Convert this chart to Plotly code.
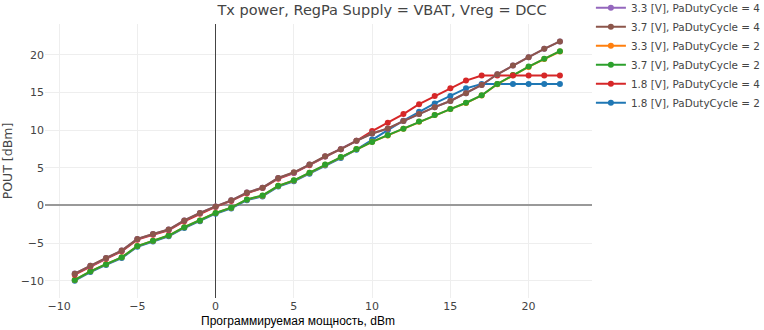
import plotly.graph_objects as go

x_dbm = list(range(-9, 23))

# 1.8 [V], PaDutyCycle = 2
pout_18_d2 = [-10.0, -8.85, -7.9, -7.0, -5.5, -4.8, -4.1, -3.0, -2.1, -1.1, -0.4, 0.7, 1.2, 2.5, 3.2, 4.2, 5.3, 6.3, 7.4, 8.75, 10.0, 11.25, 12.45, 13.55, 14.55, 15.55, 16.13, 16.13, 16.13, 16.13, 16.13, 16.13]
# 3.3 [V], PaDutyCycle = 2
pout_33_d2 = [-9.9, -8.75, -7.8, -6.9, -5.4, -4.7, -4.0, -2.9, -2.0, -1.0, -0.3, 0.8, 1.3, 2.6, 3.3, 4.35, 5.4, 6.4, 7.5, 8.45, 9.3, 10.2, 11.1, 12.0, 12.8, 13.6, 14.6, 16.1, 17.3, 18.4, 19.45, 20.45]
# 3.7 [V], PaDutyCycle = 2
pout_37_d2 = [-9.9, -8.76, -7.8, -6.9, -5.4, -4.7, -4.0, -2.9, -2.0, -1.0, -0.3, 0.8, 1.33, 2.6, 3.33, 4.35, 5.42, 6.44, 7.5, 8.44, 9.33, 10.2, 11.15, 12.0, 12.8, 13.64, 14.62, 16.13, 17.33, 18.44, 19.47, 20.49]
# 1.8 [V], PaDutyCycle = 4
pout_18_d4 = [-9.2, -8.1, -7.1, -6.1, -4.55, -3.9, -3.3, -2.1, -1.1, -0.2, 0.6, 1.6, 2.3, 3.55, 4.3, 5.35, 6.5, 7.45, 8.58, 9.87, 10.97, 12.13, 13.45, 14.53, 15.55, 16.58, 17.25, 17.25, 17.25, 17.25, 17.25, 17.25]
# 3.3 [V], PaDutyCycle = 4
pout_33_d4 = [-9.05, -8.0, -7.0, -6.0, -4.45, -3.8, -3.2, -2.0, -1.0, -0.13, 0.67, 1.7, 2.35, 3.65, 4.35, 5.42, 6.5, 7.47, 8.58, 9.55, 10.2, 11.2, 12.13, 13.05, 13.87, 14.9, 16.0, 17.42, 18.6, 19.69, 20.8, 21.78]
# 3.7 [V], PaDutyCycle = 4
pout_37_d4 = [-9.07, -8.0, -6.98, -6.0, -4.45, -3.8, -3.2, -2.0, -1.0, -0.13, 0.67, 1.7, 2.35, 3.65, 4.4, 5.42, 6.53, 7.47, 8.58, 9.55, 10.22, 11.2, 12.13, 13.05, 13.87, 14.9, 16.0, 17.42, 18.6, 19.69, 20.8, 21.78]

series = [
    ("1.8 [V], PaDutyCycle = 2", pout_18_d2, "#1f77b4", "g3", 6),
    ("3.3 [V], PaDutyCycle = 2", pout_33_d2, "#ff7f0e", "g2", 3),
    ("3.7 [V], PaDutyCycle = 2", pout_37_d2, "#2ca02c", "g2", 4),
    ("1.8 [V], PaDutyCycle = 4", pout_18_d4, "#d62728", "g3", 5),
    ("3.3 [V], PaDutyCycle = 4", pout_33_d4, "#9467bd", "g1", 1),
    ("3.7 [V], PaDutyCycle = 4", pout_37_d4, "#8c564b", "g1", 2),
]

fig = go.Figure()
for name, ys, color, grp, rank in series:
    fig.add_trace(go.Scatter(
        x=x_dbm, y=ys, name=name, mode="lines+markers",
        line=dict(color=color, width=2), marker=dict(color=color, size=6),
        legendgroup=grp, legendrank=rank,
    ))

font_main = "DejaVu Sans"
fig.update_layout(
    template="none",
    width=764, height=330,
    margin=dict(l=45, r=172, t=24, b=32, autoexpand=False),
    paper_bgcolor="white", plot_bgcolor="white",
    font=dict(family=font_main, size=11, color="#444"),
    title=dict(text="Tx power, RegPa Supply = VBAT, Vreg = DCC", x=0.5, xanchor="center",
               y=0.985, yanchor="top", font=dict(size=14.5, color="#444")),
    legend=dict(x=0.998, y=1.112, xanchor="left", yanchor="top", tracegroupgap=0,
                traceorder="grouped",
                bgcolor="rgba(0,0,0,0)", font=dict(size=10.4, color="#444")),
    showlegend=True,
    annotations=[dict(text="Программируемая мощность, dBm", xref="paper", yref="paper",
                      x=0.4625, y=-0.083, xanchor="center", yanchor="middle", showarrow=False,
                      font=dict(family="Liberation Sans", size=12, color="black"))],
)
fig.update_xaxes(range=[-10.9, 24.05], dtick=5, showgrid=True, gridcolor="#eee", gridwidth=1,
                 zeroline=True, zerolinecolor="#444", zerolinewidth=1, automargin=False,
                 ticklabelstandoff=0,
                 tickfont=dict(size=11, color="#444"), showline=False, ticks="")
fig.update_yaxes(range=[-12.3, 24.1], dtick=5, showgrid=True, gridcolor="#eee", gridwidth=1,
                 zeroline=True, zerolinecolor="#999", zerolinewidth=2, automargin=False,
                 title=dict(text="POUT [dBm]", font=dict(size=12.5, color="#444"), standoff=20),
                 tickfont=dict(size=11, color="#444"), showline=False, ticks="")

fig.write_html("out.html")
